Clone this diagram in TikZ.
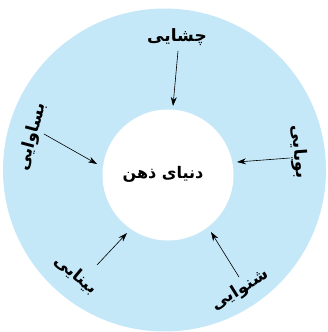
\documentclass[tikz,border=0pt]{standalone}
\usepackage{fontspec}
\usetikzlibrary{arrows.meta}
\TeXXeTstate=1
\newfontfamily\arabicfont[Script=Arabic, BoldFont={DejaVu Sans Bold}]{DejaVu Sans}
\definecolor{ringblue}{RGB}{197,232,249}
\tikzset{
  lbl/.style={font=\arabicfont\bfseries\fontsize{17}{19}\selectfont, inner sep=0pt},
  ctr/.style={font=\arabicfont\bfseries\fontsize{16}{18}\selectfont, inner sep=0pt},
  arr/.style={-{Stealth[length=9pt,width=6pt]}, line width=0.6pt, black}
}
\begin{document}
\begin{tikzpicture}[x=1pt,y=-1pt]
\useasboundingbox (0,0) rectangle (328,332);
\fill[ringblue] (164.5,170) circle (161.5);
\node[circle, fill=white, minimum size=131pt, inner sep=0pt] (mind) at (168,175) {};
\node[ctr] (mindtext) at (163,174) {\beginR دنیای ذهن\endR};
\node[lbl] (taste) at (177,37) {\beginR چشایی\endR};
\node[lbl, rotate=75] (touch) at (32,137) {\beginR بساوایی\endR};
\node[lbl, rotate=-86] (smell) at (299,152) {\beginR بویایی\endR};
\node[lbl, rotate=-40] (sight) at (76,275) {\beginR بینایی\endR};
\node[lbl, rotate=32] (hear) at (240,290) {\beginR شنوایی\endR};
\coordinate (t1) at (178,51); \coordinate (t2) at (173,106);
\coordinate (l1) at (44,134); \coordinate (l2) at (97,164);
\coordinate (r1) at (290,158); \coordinate (r2) at (237,162);
\coordinate (b1) at (97,265); \coordinate (b2) at (127,233);
\coordinate (c1) at (239,277); \coordinate (c2) at (211,232);
\draw[arr] (t1) -- (t2);
\draw[arr] (l1) -- (l2);
\draw[arr] (r1) -- (r2);
\draw[arr] (b1) -- (b2);
\draw[arr] (c1) -- (c2);
\end{tikzpicture}
\end{document}
